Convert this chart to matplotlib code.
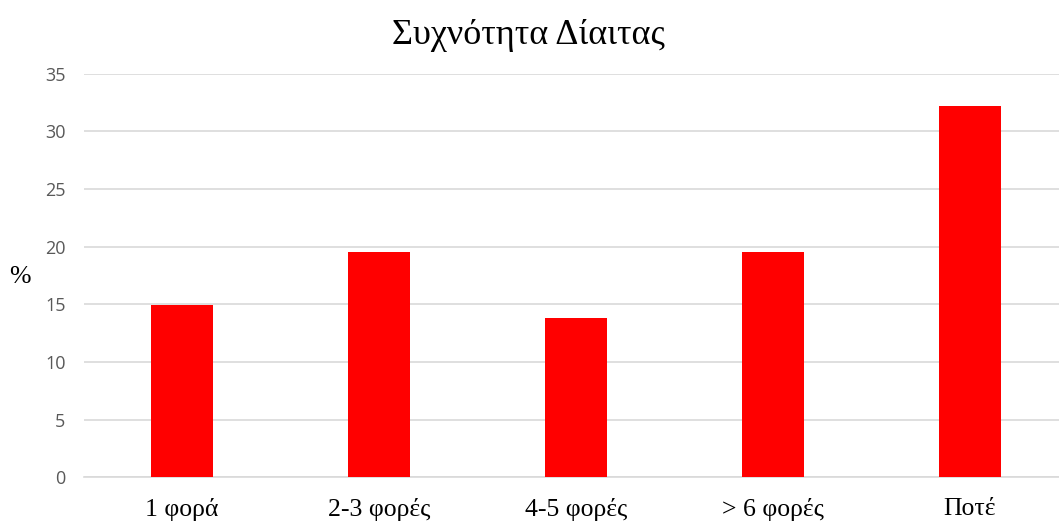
import matplotlib.pyplot as plt
import numpy as np

categories = ["1 φορά", "2-3 φορές", "4-5 φορές", "> 6 φορές", "Ποτέ"]
percent = [14.9, 19.5, 13.8, 19.5, 32.2]
y_ticks = [0, 5, 10, 15, 20, 25, 30, 35]

serif = ["Liberation Serif", "DejaVu Serif"]
sans = ["Open Sans", "DejaVu Sans"]

fig = plt.figure(figsize=(10.59, 5.21), dpi=100)
ax = fig.add_axes([83.5 / 1059, 1 - 477.3 / 521, (1059 - 83.5) / 1059, (477.3 - 73.7) / 521])

x = np.arange(len(categories))
ax.bar(x, percent, width=0.315, color="#ff0000", zorder=3)

ax.set_xlim(-0.5, 4.452)
ax.set_ylim(0, 35)
ax.set_yticks(y_ticks)
ax.set_yticklabels([str(t) for t in y_ticks], family=sans, fontsize=13, color="#595959")
ax.set_xticks(x)
ax.set_xticklabels(categories, family=serif, fontsize=18.5, color="black")
ax.tick_params(axis="both", length=0)
ax.tick_params(axis="x", pad=15)
ax.tick_params(axis="y", pad=13)

ax.grid(axis="y", color="#d9d9d9", linewidth=1.2, zorder=0)
for side in ("top", "right", "left"):
    ax.spines[side].set_visible(False)
ax.spines["bottom"].set_color("#d9d9d9")
ax.spines["bottom"].set_linewidth(1.2)

fig.text(20 / 1059, 1 - 277 / 521, "%", family=serif, fontsize=18.5, ha="center", va="center")
fig.text(528 / 1059, 1 - 36 / 521, "Συχνότητα Δίαιτας", family=serif, fontsize=26,
         ha="center", va="center")

fig.savefig("out.png", dpi=100, facecolor="white")
